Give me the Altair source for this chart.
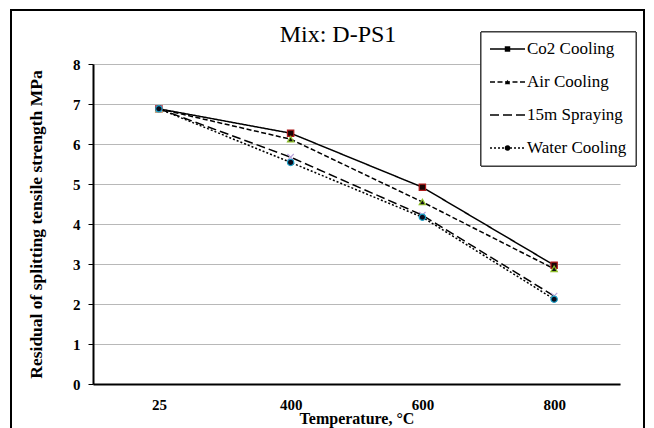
import altair as alt
import pandas as pd

temps = ["25", "400", "600", "800"]
series = ["Co2 Cooling", "Air Cooling", "15m Spraying", "Water Cooling"]
co2 = [6.88, 6.27, 4.92, 2.97]
air = [6.88, 6.12, 4.55, 2.88]
spray = [6.88, 5.67, 4.22, 2.20]
water = [6.88, 5.54, 4.17, 2.12]
y_ticks = [0, 1, 2, 3, 4, 5, 6, 7, 8]
title_text = ["Mix: D-PS1"]

values = [co2, air, spray, water]
rows = []
for s, vals in zip(series, values):
    for t, v in zip(temps, vals):
        rows.append({"temp": t, "value": v, "series": s})
df = pd.DataFrame(rows)
leg = pd.DataFrame({"series": series})
ttl = pd.DataFrame({"t": title_text})

FONT = "Liberation Serif"
W, H = 527, 320

dash_scale = alt.Scale(domain=series, range=[[1, 0], [5, 2.5], [9, 4], [2, 2]])
shape_scale = alt.Scale(domain=series, range=["square", "triangle-up", "M-1,-1L1,1M-1,1L1,-1", "circle"])
fill_scale = alt.Scale(domain=series, range=["#1a0505", "#111111", "#b9a3d9", "#0a0a1a"])
stroke_scale = alt.Scale(domain=series, range=["#b01a1a", "#8fbf2a", "#b9a3d9", "#1aa0c8"])

x_enc = alt.X("temp:N", sort=temps, scale=alt.Scale(domain=temps),
              axis=alt.Axis(title="Temperature, °C", labelAngle=0, ticks=False,
                            labelFontSize=15, labelFontWeight="bold", labelPadding=13,
                            titleFontSize=16, titleFontWeight="bold", titlePadding=-2,
                            domainColor="black", domainWidth=2, grid=False))
y_enc = alt.Y("value:Q", scale=alt.Scale(domain=[0, 8], nice=False),
              axis=alt.Axis(title="Residual of splitting tensile strength  MPa", values=y_ticks,
                            labelFontSize=15, labelFontWeight="bold", labelPadding=8,
                            tickSize=5, tickColor="black", tickWidth=1,
                            titleFontSize=17.5, titleFontWeight="bold", titlePadding=27,
                            domainColor="black", domainWidth=2,
                            grid=True, gridColor="#b8b8b8", gridWidth=1))

lines = alt.Chart(df).mark_line(color="black", strokeWidth=1.5).encode(
    x=x_enc, y=y_enc,
    strokeDash=alt.StrokeDash("series:N", scale=dash_scale, legend=None),
    detail="series:N",
)
points = alt.Chart(df).mark_point(filled=True, size=40, strokeWidth=1.2, opacity=1).encode(
    x=x_enc, y=y_enc,
    shape=alt.Shape("series:N", scale=shape_scale, legend=None),
    fill=alt.Fill("series:N", scale=fill_scale, legend=None),
    stroke=alt.Stroke("series:N", scale=stroke_scale, legend=None),
)
main = alt.layer(lines, points)

leg_y = alt.Y("series:N", sort=series, scale=alt.Scale(type="point", domain=series, range=[-15, 84], padding=0), axis=None)
leg_box = alt.Chart(leg).mark_rect(fill="white", stroke="#333333", strokeWidth=1, clip=False).encode(
    x=alt.value(388), x2=alt.value(543), y=alt.value(-32), y2=alt.value(102))
leg_rule = alt.Chart(leg).mark_rule(color="black", strokeWidth=1.5, clip=False).encode(
    x=alt.value(397), x2=alt.value(432), y=leg_y,
    strokeDash=alt.StrokeDash("series:N", scale=dash_scale, legend=None))
leg_pts = alt.Chart(leg).mark_point(filled=True, size=30, color="black", opacity=1, clip=False).encode(
    x=alt.value(414.5), y=leg_y,
    shape=alt.Shape("series:N", scale=shape_scale, legend=None))
leg_txt = alt.Chart(leg).mark_text(align="left", baseline="middle", font=FONT, fontSize=17, dx=0, clip=False).encode(
    x=alt.value(434), y=leg_y, text="series:N")
legend = alt.layer(leg_box, leg_rule, leg_pts, leg_txt)

title = alt.Chart(ttl).mark_text(align="center", baseline="middle", font=FONT, fontSize=24,
                                 color="black", clip=False).encode(
    x=alt.value(245), y=alt.value(-29), text="t:N")

border = alt.Chart(leg).mark_rect(fill=None, stroke="black", strokeWidth=2, clip=False).encode(
    x=alt.value(-82), x2=alt.value(551), y=alt.value(-54), y2=alt.value(420))

chart = alt.layer(main, legend, title, border).resolve_scale(y="independent").properties(
    width=W, height=H,
    autosize=alt.AutoSizeParams(type="none"),
    padding={"left": 85, "top": 56, "right": 26, "bottom": 44},
).configure(font=FONT).configure_view(stroke=None).configure_axis(
    labelColor="black", titleColor="black", labelFont=FONT, titleFont=FONT)

chart.save("out.html", embed_options={"renderer": "svg", "actions": False})
